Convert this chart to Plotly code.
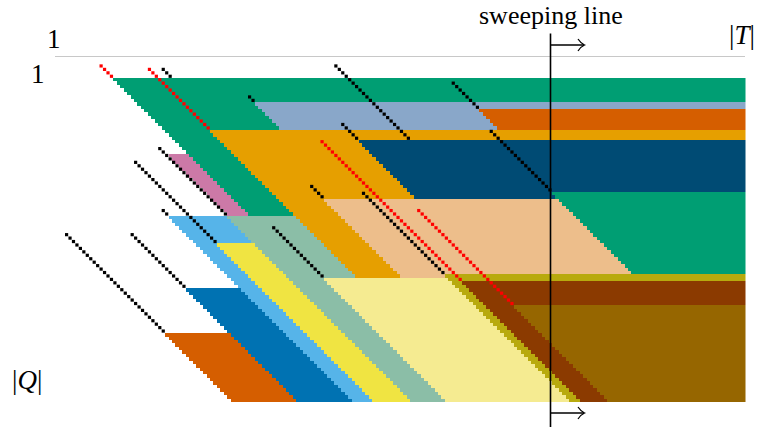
import numpy as np
import plotly.graph_objects as go

W, H = 757, 427
N_COLS = 200          # |T|
N_ROWS = 94           # |Q|
CELL_X = 3.4525       # px per column
CELL_Y = 3.443        # px per row
X0_PX = 54.5          # left edge of column 0
Y0_PX = 78.0          # top edge of row 0

# ---- coloured regions: each starts at (top row, start column) and its left
# edge runs diagonally down to the right until the bottom row ----
band_colors = ["#009E73", "#89A7C9", "#D55E00", "#E69F00", "#004B74", "#CC79A7",
               "#009E73", "#EDBE8B", "#56B4E9", "#8BBEA7", "#F0E442", "#B8AA0E",
               "#F5EB91", "#8B3A00", "#966600", "#0072B2", "#D55E00"]
band_top = [0, 7, 9, 15, 18, 22, 33, 35, 40, 40, 48, 57, 58, 59, 66, 61, 74]
band_bottom = [40, 15, 15, 58, 35, 40, 57, 58, 94, 94, 94, 94, 94, 94, 94, 94, 94]
band_start_col = [17, 58, 123, 45, 88, 33, 144, 78, 33, 50, 47, 113, 78, 118, 133, 38, 32]

# ---- diagonal seed lines (row, column of first cell, number of cells) ----
black_row = [-3, -4, 5, 13, 1, 15, 20, 38, 24, 31, 33, 43, 45, 45]
black_col = [31, 81, 56, 83, 115, 126, 30, 31, 23, 74, 89, 63, 22, 3]
black_len = [3, 22, 2, 5, 8, 18, 20, 2, 24, 4, 24, 15, 16, 29]
red_row = [-4, -3, 18, 38]
red_col = [13, 27, 77, 105]
red_len = [4, 18, 41, 28]

# ---- build the cell grid ----
n_b = len(band_colors)
z = np.full((N_ROWS, N_COLS), np.nan)
for r in range(N_ROWS):
    edges = []
    for i in range(n_b):
        if band_top[i] <= r < band_bottom[i]:
            edges.append((band_start_col[i] + r - band_top[i], i))
    edges.sort()
    for e, i in edges:
        if e < N_COLS:
            z[r, max(e, 0):] = i + 0.5

colorscale = []
for i, c in enumerate(band_colors):
    colorscale.append([i / n_b, c])
    colorscale.append([(i + 1) / n_b, c])

fig = go.Figure()
fig.add_trace(go.Heatmap(z=z, x=np.arange(N_COLS), y=np.arange(N_ROWS),
                         zmin=0, zmax=n_b, colorscale=colorscale,
                         showscale=False, hoverinfo="skip", zsmooth=False))


def seg_points(rows, cols, lens):
    xs, ys = [], []
    for r, c, n in zip(rows, cols, lens):
        for k in range(n):
            xs.append(c + k)
            ys.append(r + k)
    return xs, ys


for rows, cols, lens, col in [(black_row, black_col, black_len, "#000000"),
                              (red_row, red_col, red_len, "#FF0000")]:
    xs, ys = seg_points(rows, cols, lens)
    fig.add_trace(go.Scatter(x=xs, y=ys, mode="markers", hoverinfo="skip",
                             marker=dict(symbol="square", size=3.2, color=col,
                                         line=dict(width=0))))


def px(x):
    return x / W


def py(y):
    return 1 - y / H


# data range so that axes map cells onto the intended pixels
x_lo = -X0_PX / CELL_X - 0.5
x_hi = (W - X0_PX) / CELL_X - 0.5
y_top = -Y0_PX / CELL_Y - 0.5
y_bot = (H - Y0_PX) / CELL_Y - 0.5

SWEEP_X = 550.5
shapes = [
    dict(type="line", xref="paper", yref="paper", x0=px(55), x1=px(745),
         y0=py(56.5), y1=py(56.5), line=dict(color="#C8C8C8", width=1)),
    dict(type="line", xref="paper", yref="paper", x0=px(SWEEP_X), x1=px(SWEEP_X),
         y0=py(33.5), y1=py(427), line=dict(color="#000000", width=1.6)),
]
for ay in (45, 413):
    shapes.append(dict(type="line", xref="paper", yref="paper", x0=px(SWEEP_X), x1=px(584),
                       y0=py(ay), y1=py(ay), line=dict(color="#000000", width=1.3)))
    shapes.append(dict(type="path", xref="paper", yref="paper",
                       path=f"M {px(578)},{py(ay-6)} Q {px(581)},{py(ay-1.5)} {px(584.5)},{py(ay)} "
                            f"Q {px(581)},{py(ay+1.5)} {px(578)},{py(ay+6)}",
                       line=dict(color="#000000", width=1.3)))

FONT = "Liberation Serif"
ann = []


def label(text, x, y, size=27):
    ann.append(dict(text=text, x=px(x), y=py(y), xref="paper", yref="paper",
                    showarrow=False, xanchor="center", yanchor="middle",
                    font=dict(family=FONT, size=size, color="#000000")))


label("sweeping line", 550.5, 15.5, 26)
label("1", 54, 39)
label("1", 38, 74)
label("|<i>T</i>|", 742, 35)
label("|<i>Q</i>|", 27, 380)

fig.update_layout(width=W, height=H, margin=dict(l=0, r=0, t=0, b=0),
                  paper_bgcolor="white", plot_bgcolor="white", showlegend=False,
                  xaxis=dict(range=[x_lo, x_hi], visible=False, fixedrange=True),
                  yaxis=dict(range=[y_bot, y_top], visible=False, fixedrange=True),
                  shapes=shapes, annotations=ann)

fig.write_html("out.html", config=dict(displayModeBar=False),
               post_script="document.body.style.margin='0';document.body.style.overflow='hidden';")
